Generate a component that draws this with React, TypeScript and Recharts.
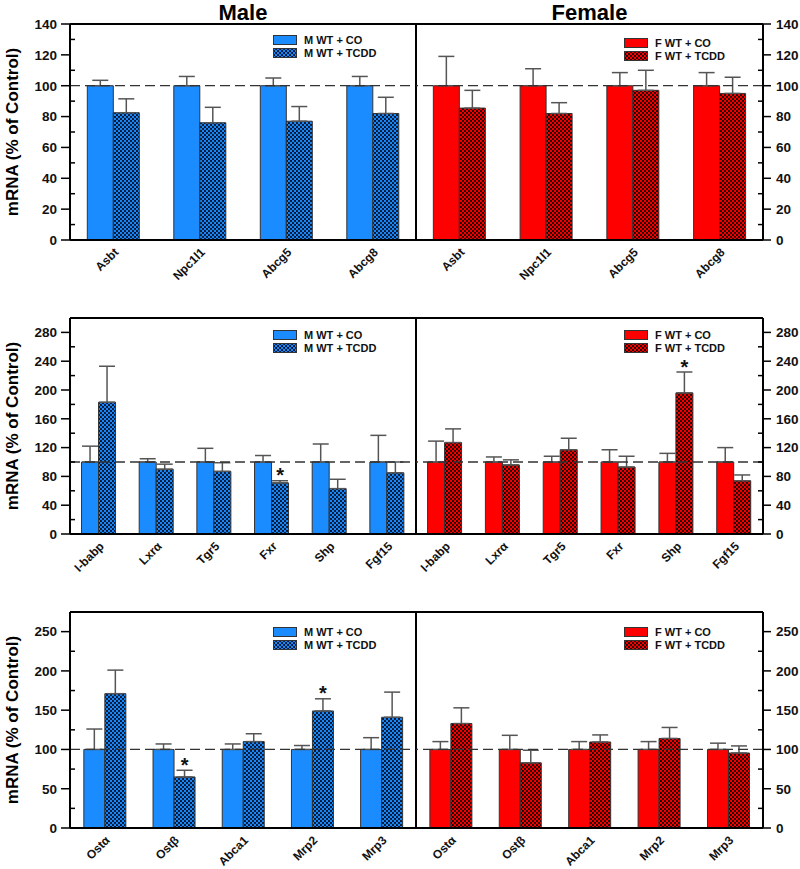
import React from "react";
import { BarChart, Bar, XAxis, YAxis, ErrorBar, ReferenceLine, Legend } from "recharts";

const FONT = "'Liberation Sans', Arial, sans-serif";

// row 1
const genesA = ["Asbt", "Npc1l1", "Abcg5", "Abcg8"];
const maleCoA = [100, 100, 100, 100];
const maleCoErrA = [3.5, 6, 5, 6];
const maleTcA = [82.5, 76, 77, 82];
const maleTcErrA = [9, 10, 9.5, 10.5];
const maleSigA = [0, 0, 0, 0];
const femCoA = [100, 100, 100, 100];
const femCoErrA = [19, 11, 8.5, 8.5];
const femTcA = [85.5, 82, 97, 95];
const femTcErrA = [11.5, 7, 13, 10.5];
const femSigA = [0, 0, 0, 0];

// row 2
const genesB = ["I-babp", "Lxrα", "Tgr5", "Fxr", "Shp", "Fgf15"];
const maleCoB = [100, 100, 100, 100, 100, 100];
const maleCoErrB = [22, 4.5, 19, 9, 25, 37];
const maleTcB = [183, 90, 87, 71, 63, 85];
const maleTcErrB = [50, 7, 12, 3, 13, 15];
const maleSigB = [0, 0, 0, 1, 0, 0];
const femCoB = [100, 100, 100, 100, 100, 100];
const femCoErrB = [29, 7, 8, 17, 12, 20];
const femTcB = [127, 96, 117, 93, 196, 74];
const femTcErrB = [19, 7, 16, 15, 29, 8];
const femSigB = [0, 0, 0, 0, 1, 0];

// row 3
const genesC = ["Ostα", "Ostβ", "Abca1", "Mrp2", "Mrp3"];
const maleCoC = [100, 100, 100, 100, 100];
const maleCoErrC = [26, 7, 7, 5, 15];
const maleTcC = [171, 65, 110, 149, 141];
const maleTcErrC = [30, 8.5, 10, 15.5, 32];
const maleSigC = [0, 1, 0, 1, 0];
const femCoC = [100, 100, 100, 100, 100];
const femCoErrC = [10, 18, 10, 10, 8];
const femTcC = [133, 83, 109.5, 114, 95.5];
const femTcErrC = [20, 16, 9, 14, 9];
const femSigC = [0, 0, 0, 0, 0];

const ticksA = [0, 10, 20, 30, 40, 50, 60, 70, 80, 90, 100, 110, 120, 130, 140];
const ticksB = [0, 20, 40, 60, 80, 100, 120, 140, 160, 180, 200, 220, 240, 260, 280];
const ticksC = [0, 25, 50, 75, 100, 125, 150, 175, 200, 225, 250];

const BLUE = "#1a8cff";
const RED = "#ff0000";

const leftTick = (major: number) => (p: any) => {
  const v = p.payload.value;
  if (v % major !== 0)
    return <line x1={p.x} x2={p.x + 5} y1={p.y} y2={p.y} stroke="#000" strokeWidth={1.5} />;
  return (
    <g>
      <line x1={p.x - 9} x2={p.x} y1={p.y} y2={p.y} stroke="#000" strokeWidth={1.5} />
      <text x={p.x - 13} y={p.y} dy="0.36em" textAnchor="end" fontSize={13.5} fontWeight="bold" fontFamily={FONT} fill="#111">
        {v}
      </text>
    </g>
  );
};

const rightTick = (major: number) => (p: any) => {
  const v = p.payload.value;
  if (v % major !== 0)
    return <line x1={p.x - 5} x2={p.x} y1={p.y} y2={p.y} stroke="#000" strokeWidth={1.5} />;
  return (
    <g>
      <line x1={p.x} x2={p.x + 8} y1={p.y} y2={p.y} stroke="#000" strokeWidth={1.5} />
      <text x={p.x + 13} y={p.y} dy="0.36em" textAnchor="start" fontSize={13.5} fontWeight="bold" fontFamily={FONT} fill="#111">
        {v}
      </text>
    </g>
  );
};

const catTick = (p: any) => (
  <g transform={`translate(${p.x + 3},${p.y + 10})`}>
    <text textAnchor="end" transform="rotate(-45)" dy="0.35em" fontSize={12} fontWeight="bold" fontFamily={FONT} fill="#111">
      {p.payload.value}
    </text>
  </g>
);

const legendContent = (props: any) => (
  <div style={{ fontFamily: FONT, fontWeight: "bold", fontSize: 11, color: "#111" }}>
    {(props.payload || []).map((e: any) => (
      <div key={e.value} style={{ display: "flex", alignItems: "center", height: 13 }}>
        <svg width={24} height={10} style={{ marginRight: 7 }}>
          <rect x={0.5} y={0.5} width={23} height={9} fill={e.color} stroke="#333" />
        </svg>
        <span>{e.value}</span>
      </div>
    ))}
  </div>
);

function Pattern({ id, color, dark }: { id: string; color: string; dark: string }) {
  return (
    <defs>
      <pattern id={id} patternUnits="userSpaceOnUse" width={4} height={4}>
        <rect width={4} height={4} fill={dark} />
        <circle cx={1} cy={1} r={1.15} fill={color} />
        <circle cx={3} cy={3} r={1.15} fill={color} />
      </pattern>
    </defs>
  );
}

type PanelProps = {
  genes: string[];
  co: number[];
  coErr: number[];
  tc: number[];
  tcErr: number[];
  sig: number[];
  female: boolean;
  max: number;
  ticks: number[];
  major: number;
  top: number;
  legendTop: number;
  pid: string;
  title?: string;
};

function Panel(p: PanelProps) {
  const data = p.genes.map((g, i) => ({
    gene: g,
    co: p.co[i],
    coErr: [0, p.coErr[i]],
    tc: p.tc[i],
    tcErr: [0, p.tcErr[i]],
  }));
  const color = p.female ? RED : BLUE;
  const sex = p.female ? "F" : "M";
  const star = (lp: any) => {
    const i = lp.index;
    if (!p.sig[i]) return null;
    const capY = lp.y - (p.tcErr[i] * lp.height) / lp.value;
    return (
      <text x={lp.x + lp.width / 2} y={capY + 1.5} textAnchor="middle" fontSize={20} fontWeight="bold" fontFamily={FONT} fill="#111">
        *
      </text>
    );
  };
  const width = p.female ? 384 : 417;
  return (
    <BarChart
      width={width}
      height={p.top + 216 + 60}
      data={data}
      margin={{ top: p.top - 1, right: 0, left: 0, bottom: 0 }}
      barCategoryGap="20%"
      barGap={0}
    >
      <Pattern id={p.pid} color={color} dark={p.female ? "#220000" : "#061634"} />
      <XAxis
        dataKey="gene"
        height={60}
        tick={catTick}
        tickLine={false}
        tickSize={0}
        tickMargin={0}
        interval={0}
        axisLine={{ stroke: "#000", strokeWidth: 2 }}
      />
      <XAxis
        xAxisId="top"
        dataKey="gene"
        orientation="top"
        height={1}
        tick={false}
        tickLine={false}
        axisLine={{ stroke: "#000", strokeWidth: 2 }}
        label={
          p.title
            ? { value: p.title, position: "top", offset: 3, style: { fontSize: 22, fontWeight: "bold", fontFamily: FONT, fill: "#000" } }
            : undefined
        }
      />
      <YAxis
        orientation={p.female ? "right" : "left"}
        width={p.female ? 37 : 70}
        domain={[0, p.max]}
        ticks={p.ticks}
        interval={0}
        tick={p.female ? rightTick(p.major) : leftTick(p.major)}
        tickLine={false}
        tickSize={0}
        tickMargin={0}
        axisLine={{ stroke: "#000", strokeWidth: 2 }}
        label={
          p.female
            ? undefined
            : {
                value: "mRNA (% of Control)",
                angle: -90,
                position: "insideLeft",
                offset: 12,
                style: { textAnchor: "middle", fontSize: 17, fontWeight: "bold", fontFamily: FONT, fill: "#000" },
              }
        }
      />
      {!p.female && (
        <YAxis
          yAxisId="edge"
          orientation="right"
          width={1}
          domain={[0, p.max]}
          tick={false}
          tickLine={false}
          axisLine={{ stroke: "#000", strokeWidth: 2 }}
        />
      )}
      <Bar dataKey="co" name={`${sex} WT + CO`} fill={color} stroke="#333" strokeWidth={1} isAnimationActive={false}>
        <ErrorBar dataKey="coErr" direction="y" width={8} stroke="#555" strokeWidth={1.5} />
      </Bar>
      <Bar
        dataKey="tc"
        name={`${sex} WT + TCDD`}
        fill={`url(#${p.pid})`}
        stroke="#333"
        strokeWidth={1}
        isAnimationActive={false}
        label={star}
      >
        <ErrorBar dataKey="tcErr" direction="y" width={8} stroke="#555" strokeWidth={1.5} />
      </Bar>
      <ReferenceLine y={100} stroke="#333" strokeWidth={1.3} strokeDasharray="10 5" />
      <Legend
        content={legendContent}
        layout="vertical"
        align="center"
        verticalAlign="middle"
        wrapperStyle={{ top: p.legendTop, left: p.female ? 208 : 273, width: 130, height: 28 }}
      />
    </BarChart>
  );
}

export default function App() {
  const rows = [
    { top: 0, m: 24, genes: genesA, max: 140, ticks: ticksA, major: 20, lt: [33, 36],
      male: [maleCoA, maleCoErrA, maleTcA, maleTcErrA, maleSigA], fem: [femCoA, femCoErrA, femTcA, femTcErrA, femSigA] },
    { top: 290, m: 28, genes: genesB, max: 300, ticks: ticksB, major: 40, lt: [38.5, 38],
      male: [maleCoB, maleCoErrB, maleTcB, maleTcErrB, maleSigB], fem: [femCoB, femCoErrB, femTcB, femTcErrB, femSigB] },
    { top: 590, m: 22, genes: genesC, max: 275, ticks: ticksC, major: 50, lt: [35.5, 35.5],
      male: [maleCoC, maleCoErrC, maleTcC, maleTcErrC, maleSigC], fem: [femCoC, femCoErrC, femTcC, femTcErrC, femSigC] },
  ];
  return (
    <div style={{ position: "absolute", left: 0, top: 0, width: 800, height: 869, background: "#fff", fontFamily: FONT, overflow: "hidden" }}>
      {rows.map((r, ri) => (
        <React.Fragment key={ri}>
          <div style={{ position: "absolute", left: 0, top: r.top }}>
            <Panel
              genes={r.genes}
              co={r.male[0]}
              coErr={r.male[1]}
              tc={r.male[2]}
              tcErr={r.male[3]}
              sig={r.male[4]}
              female={false}
              max={r.max}
              ticks={r.ticks}
              major={r.major}
              top={r.m}
              legendTop={r.lt[0]}
              pid={`hatchM${ri}`}
              title={ri === 0 ? "Male" : undefined}
            />
          </div>
          <div style={{ position: "absolute", left: 416, top: r.top }}>
            <Panel
              genes={r.genes}
              co={r.fem[0]}
              coErr={r.fem[1]}
              tc={r.fem[2]}
              tcErr={r.fem[3]}
              sig={r.fem[4]}
              female={true}
              max={r.max}
              ticks={r.ticks}
              major={r.major}
              top={r.m}
              legendTop={r.lt[1]}
              pid={`hatchF${ri}`}
              title={ri === 0 ? "Female" : undefined}
            />
          </div>
        </React.Fragment>
      ))}
    </div>
  );
}
